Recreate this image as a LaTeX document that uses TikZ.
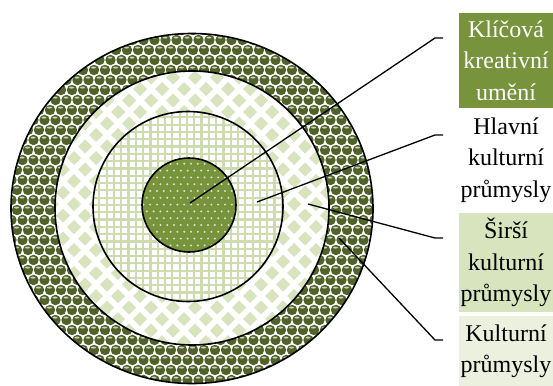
\documentclass[tikz,border=0pt]{standalone}
\usepackage{fontspec}
\setmainfont{Liberation Serif}
\definecolor{darkol}{HTML}{4F6228}
\definecolor{olive}{HTML}{77933C}
\definecolor{lgreen}{HTML}{D7E4BD}
\definecolor{vlgreen}{HTML}{EBF1DE}
\definecolor{gridc}{HTML}{CCDCAE}
\colorlet{hl}{white!70!darkol}
\colorlet{dotc}{white!75!olive}
\begin{document}
\begin{tikzpicture}[x=1pt,y=-1pt,
  ring/.style={draw=black,line width=1.6pt},
  conn/.style={draw=black,line width=1.3pt},
  lbl/.style={inner sep=0pt,align=center,minimum width=94pt,font=\fontsize{24}{31.5}\selectfont}]
\useasboundingbox (0,0) rectangle (553,385);
% outer ring: spheres
\begin{scope}
\clip (192,208.5) ellipse[x radius=181,y radius=175];
\fill[white] (0,20) rectangle (400,400);
\foreach \j in {0,...,37}{
  \pgfmathsetmacro\off{mod(\j,2)*5.5}
  \foreach \i in {0,...,34}{
    \fill[darkol] ({6+11*\i+\off},{30+10*\j}) circle[radius=5.2];
    \fill[hl] ({5.5+11*\i+\off},{27.6+10*\j}) ellipse[x radius=2.4,y radius=1];
  }
}
\end{scope}
% second ring: diamonds
\begin{scope}
\clip (192,208) circle[radius=137];
\fill[white] (50,65) rectangle (335,350);
\foreach \j in {0,...,25}{
  \pgfmathsetmacro\off{mod(\j,2)*11}
  \foreach \i in {0,...,13}{
    \fill[lgreen] ({45+22*\i+\off},{66+11.5*\j}) -- ++(7,-7) -- ++(7,7) -- ++(-7,7) -- cycle;
  }
}
\end{scope}
% third ring: grid
\begin{scope}
\clip (188,206.5) circle[radius=95];
\fill[white] (90,108) rectangle (286,305);
\foreach \k in {0,...,28}{
  \draw[gridc,line width=2.2] ({92+7.3*\k},100) -- ++(0,215);
  \draw[gridc,line width=2.2] (85,{110+7.3*\k}) -- ++(215,0);
}
\end{scope}
% inner disc: dots
\begin{scope}
\clip (189,205) circle[radius=47];
\fill[olive] (140,156) rectangle (238,254);
\foreach \j in {0,...,15}{
  \pgfmathsetmacro\off{mod(\j,2)*3.4}
  \foreach \i in {0,...,14}{
    \fill[dotc] ({140+6.8*\i+\off},{157+6.8*\j}) circle[radius=1.1];
  }
}
\end{scope}
% outlines
\draw[ring] (192,208.5) ellipse[x radius=181,y radius=175];
\draw[ring] (192,208) circle[radius=137];
\draw[ring] (188,206.5) circle[radius=95];
\draw[ring] (189,205) circle[radius=47];
% labels
\node[lbl,fill=olive,text=white,minimum height=95] (l1) at (506,60.5) {Klíčová\\kreativní\\umění};
\node[lbl] (l2) at (506,160) {Hlavní\\kulturní\\průmysly};
\node[lbl,fill=lgreen,minimum height=99] (l3) at (506,262.5) {Širší\\kulturní\\průmysly};
\node[lbl,fill=vlgreen,minimum height=70] (l4) at (506,351) {Kulturní\\průmysly};
% connectors
\coordinate (s1) at (190,203); \coordinate (e1) at (435,38); \coordinate (t1) at (443,38);
\coordinate (s2) at (257,202); \coordinate (e2) at (435,135); \coordinate (t2) at (443,135);
\coordinate (s3) at (308,204); \coordinate (e3) at (435,238); \coordinate (t3) at (443,238);
\coordinate (s4) at (339,238); \coordinate (e4) at (435,340); \coordinate (t4) at (443,340);
\draw[conn] (s1) -- (e1) -- (t1);
\draw[conn] (s2) -- (e2) -- (t2);
\draw[conn] (s3) -- (e3) -- (t3);
\draw[conn] (s4) -- (e4) -- (t4);
\end{tikzpicture}
\end{document}
